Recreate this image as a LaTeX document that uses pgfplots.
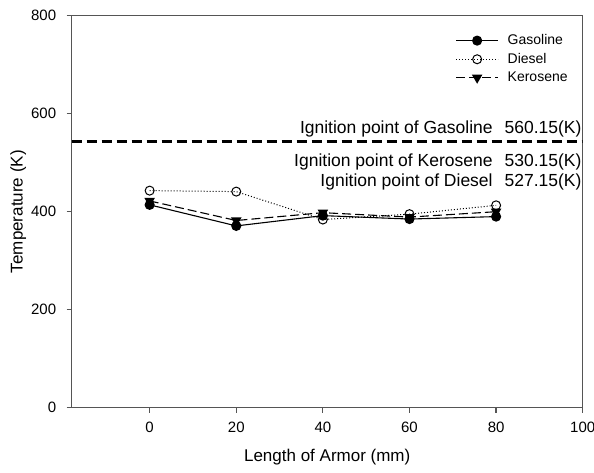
\documentclass[border=0pt]{standalone}
\usepackage{pgfplots}
\pgfplotsset{compat=1.18}
\usepackage{fontspec}
\setmainfont{Liberation Sans}

\definecolor{axgray}{RGB}{85,85,85}

\begin{document}
\begin{tikzpicture}
  \begin{axis}[
    scale only axis,
    width=511pt, height=392pt,
    xmin=-18, xmax=100,
    ymin=0, ymax=800,
    xtick={0,20,...,100},
    ytick={0,200,...,800},
    tick align=outside,
    tick pos=left,
    major tick length=5pt,
    axis line style={axgray, line width=1.2pt},
    every tick/.style={axgray, line width=1.2pt},
    /pgf/number format/assume math mode=true,
    tick label style={font=\fontsize{15}{15}\selectfont},
    xticklabel style={yshift=-6pt, overlay},
    yticklabel style={xshift=-7pt},
    label style={font=\fontsize{17}{17}\selectfont},
    xlabel={Length of Armor (mm)},
    ylabel={Temperature (K)},
    xlabel style={yshift=-9pt},
    ylabel style={yshift=-2pt},
    legend style={at={(0.745,0.962)}, anchor=north west, draw=none, fill=none,
      font=\fontsize{14}{14}\selectfont, row sep=3pt,
      /tikz/every odd column/.append style={column sep=7pt}},
    legend cell align=left,
    legend image code/.code={
      \draw[mark repeat=2, mark phase=2, #1]
        plot coordinates {(0pt,0pt) (21pt,0pt) (42pt,0pt)};
    },
  ]
    \addplot [black, line width=1.1pt, mark=*, mark size=4.5pt]
      coordinates {(0,414) (20,371) (40,392) (60,385) (80,390)};
    \addlegendentry{Gasoline}
    \addplot [black, line width=1pt, dotted, mark=o, mark size=4.5pt,
      mark options={solid, fill=white}]
      coordinates {(0,443) (20,441) (40,384) (60,395) (80,413)};
    \addlegendentry{Diesel}
    \addplot [black, line width=1.1pt, dash pattern=on 9pt off 4pt,
      mark=triangle*, mark size=5pt, mark options={solid, rotate=180}]
      coordinates {(0,422) (20,382) (40,398) (60,389) (80,400)};
    \addlegendentry{Kerosene}
    \addplot [black, line width=2.6pt, dash pattern=on 10pt off 5pt, forget plot]
      coordinates {(-18,543) (100,543)};
    \node[anchor=base east, inner sep=1pt, font=\fontsize{17.5}{17.5}\selectfont]
      at (axis cs:100,560) {Ignition point of Gasoline\hspace{12pt}560.15(K)};
    \node[anchor=base east, inner sep=1pt, font=\fontsize{17.5}{17.5}\selectfont]
      at (axis cs:100,493) {Ignition point of Kerosene\hspace{12pt}530.15(K)};
    \node[anchor=base east, inner sep=1pt, font=\fontsize{17.5}{17.5}\selectfont]
      at (axis cs:100,452) {Ignition point of Diesel\hspace{12pt}527.15(K)};
  \end{axis}
  \path (-71.7pt,-65.3pt) rectangle (522.3pt,407.7pt);
\end{tikzpicture}
\end{document}
